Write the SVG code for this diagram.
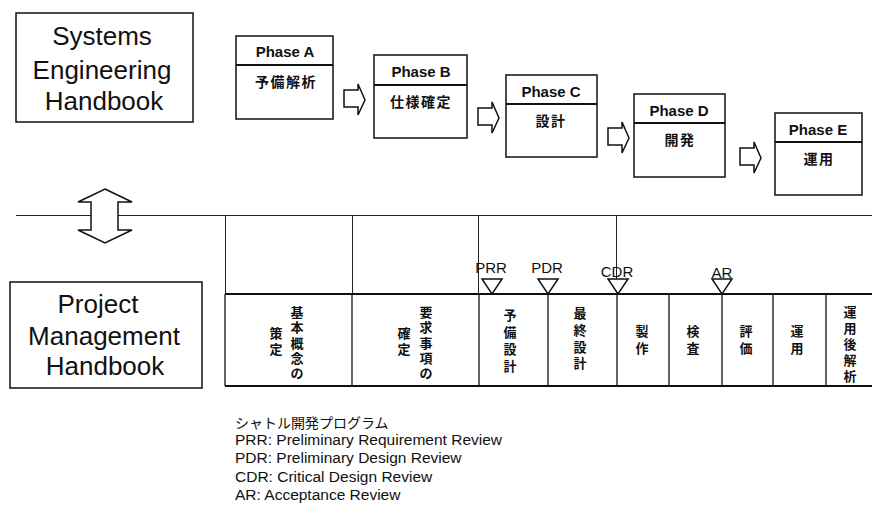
<svg xmlns="http://www.w3.org/2000/svg" width="872" height="506" viewBox="0 0 872 506">
<defs>
<style>
.bg{fill:#fff}
.box{fill:#fff;stroke:#111;stroke-width:1.5}
.div{stroke:#111;stroke-width:2}
.big{font-family:"Liberation Sans",Arial,sans-serif;font-size:26px;fill:#111;text-anchor:middle}
.ph{font-family:"Liberation Sans",Arial,sans-serif;font-size:15px;font-weight:bold;fill:#111;text-anchor:middle}
.jp{font-family:"Liberation Sans","Noto Sans CJK JP",sans-serif;font-size:14px;font-weight:bold;fill:#111;text-anchor:middle;letter-spacing:1.5px}
.vt{font-family:"Liberation Sans","Noto Sans CJK JP",sans-serif;font-size:13px;font-weight:bold;fill:#111;text-anchor:middle;dominant-baseline:central}
.ms{font-family:"Liberation Sans",Arial,sans-serif;font-size:15px;fill:#111;text-anchor:middle}
.lg{font-family:"Liberation Sans","Noto Sans CJK JP",sans-serif;font-size:15.5px;fill:#111}
.thin{stroke:#222;stroke-width:1;fill:none}
.rule{stroke:#111;stroke-width:2;fill:none}
.col{stroke:#111;stroke-width:1.3;fill:none}
.arr{fill:#fff;stroke:#111;stroke-width:1.5;stroke-linejoin:miter}
.tri{fill:#fff;stroke:#111;stroke-width:1.5}
</style>
<path id="blk" d="M0,6 H14 V0 L21,16 L14,31 V23 H0 Z"/>
<path id="tri" d="M-10,0 H10 L0,15 Z"/>
</defs>
<rect class="bg" x="0" y="0" width="872" height="506"/>

<g id="timeline">
<line class="thin" x1="16" y1="215.5" x2="872" y2="215.5"/>
<line class="thin" x1="225.5" y1="215" x2="225.5" y2="294"/>
<line class="thin" x1="352.5" y1="215" x2="352.5" y2="294"/>
<line class="thin" x1="478.5" y1="215" x2="478.5" y2="294"/>
<line class="thin" x1="616.5" y1="215" x2="616.5" y2="294"/>
</g>

<g id="se-handbook">
<rect class="box" x="16" y="13" width="177" height="109"/>
<text class="big" x="102" y="45">Systems</text>
<text class="big" x="102" y="79">Engineering</text>
<text class="big" x="104" y="110">Handbook</text>
</g>

<g id="pm-handbook">
<rect class="box" x="10" y="282" width="192" height="106"/>
<text class="big" x="98" y="313">Project</text>
<text class="big" x="104" y="345">Management</text>
<text class="big" x="105" y="375">Handbook</text>
</g>

<g id="phase-a">
<rect class="box" x="236" y="36" width="97" height="83"/>
<line class="div" x1="236" y1="65" x2="333" y2="65"/>
<text class="ph" x="285" y="57">Phase A</text>
<text class="jp" x="286" y="87">予備解析</text>
</g>
<g id="phase-b">
<rect class="box" x="374" y="55" width="93" height="83"/>
<line class="div" x1="374" y1="85" x2="467" y2="85"/>
<text class="ph" x="421" y="77">Phase B</text>
<text class="jp" x="421" y="107">仕様確定</text>
</g>
<g id="phase-c">
<rect class="box" x="506" y="75" width="91" height="82"/>
<line class="div" x1="506" y1="104" x2="597" y2="104"/>
<text class="ph" x="551" y="97">Phase C</text>
<text class="jp" x="551" y="126">設計</text>
</g>
<g id="phase-d">
<rect class="box" x="634" y="94" width="91" height="83"/>
<line class="div" x1="634" y1="123" x2="725" y2="123"/>
<text class="ph" x="679" y="116">Phase D</text>
<text class="jp" x="680" y="145">開発</text>
</g>
<g id="phase-e">
<rect class="box" x="775" y="113" width="87" height="82"/>
<line class="div" x1="775" y1="142" x2="862" y2="142"/>
<text class="ph" x="818" y="135">Phase E</text>
<text class="jp" x="819" y="164">運用</text>
</g>

<g id="connectors">
<use href="#blk" class="arr" x="344" y="84"/>
<use href="#blk" class="arr" x="478" y="102"/>
<use href="#blk" class="arr" x="608" y="122"/>
<use href="#blk" class="arr" x="740" y="142"/>
<path class="arr" d="M105,189 L132,202 H118 V230 H132 L105,243 L78,230 H91 V202 H78 Z"/>
</g>

<g id="shuttle-table">
<line class="rule" x1="225" y1="294" x2="872" y2="294"/>
<line class="rule" x1="225" y1="386" x2="872" y2="386"/>
<line class="col" x1="225" y1="294" x2="225" y2="386"/>
<line class="col" x1="352" y1="294" x2="352" y2="386"/>
<line class="col" x1="479" y1="294" x2="479" y2="386"/>
<line class="col" x1="548" y1="294" x2="548" y2="386"/>
<line class="col" x1="617" y1="294" x2="617" y2="386"/>
<line class="col" x1="669" y1="294" x2="669" y2="386"/>
<line class="col" x1="722" y1="294" x2="722" y2="386"/>
<line class="col" x1="773" y1="294" x2="773" y2="386"/>
<line class="col" x1="826" y1="294" x2="826" y2="386"/>
<text class="vt"><tspan x="297" y="312">基</tspan><tspan x="297" y="327">本</tspan><tspan x="297" y="343">概</tspan><tspan x="297" y="358">念</tspan><tspan x="297" y="373">の</tspan></text>
<text class="vt"><tspan x="276" y="333">策</tspan><tspan x="276" y="349">定</tspan></text>
<text class="vt"><tspan x="426" y="312">要</tspan><tspan x="426" y="327">求</tspan><tspan x="426" y="343">事</tspan><tspan x="426" y="358">項</tspan><tspan x="426" y="373">の</tspan></text>
<text class="vt"><tspan x="404" y="333">確</tspan><tspan x="404" y="349">定</tspan></text>
<text class="vt"><tspan x="510" y="315">予</tspan><tspan x="510" y="332">備</tspan><tspan x="510" y="349">設</tspan><tspan x="510" y="366">計</tspan></text>
<text class="vt"><tspan x="580" y="313">最</tspan><tspan x="580" y="330">終</tspan><tspan x="580" y="347">設</tspan><tspan x="580" y="363">計</tspan></text>
<text class="vt"><tspan x="642" y="331">製</tspan><tspan x="642" y="348">作</tspan></text>
<text class="vt"><tspan x="693" y="331">検</tspan><tspan x="693" y="348">査</tspan></text>
<text class="vt"><tspan x="746" y="331">評</tspan><tspan x="746" y="348">価</tspan></text>
<text class="vt"><tspan x="797" y="331">運</tspan><tspan x="797" y="348">用</tspan></text>
<text class="vt"><tspan x="850" y="312">運</tspan><tspan x="850" y="328">用</tspan><tspan x="850" y="344">後</tspan><tspan x="850" y="360">解</tspan><tspan x="850" y="376">析</tspan></text>
</g>

<g id="milestones">
<use href="#tri" class="tri" x="492" y="279"/>
<use href="#tri" class="tri" x="548" y="279"/>
<use href="#tri" class="tri" x="618" y="279"/>
<use href="#tri" class="tri" x="722" y="279"/>
<text class="ms" x="491" y="273">PRR</text>
<text class="ms" x="547" y="273">PDR</text>
<text class="ms" x="617" y="277">CDR</text>
<text class="ms" x="722" y="278">AR</text>
</g>

<g id="legend">
<text class="lg" x="235" y="428" style="font-size:14px">シャトル開発プログラム</text>
<text class="lg" x="235" y="445">PRR: Preliminary Requirement Review</text>
<text class="lg" x="235" y="463">PDR: Preliminary Design Review</text>
<text class="lg" x="235" y="482">CDR: Critical Design Review</text>
<text class="lg" x="235" y="500">AR: Acceptance Review</text>
</g>
</svg>
